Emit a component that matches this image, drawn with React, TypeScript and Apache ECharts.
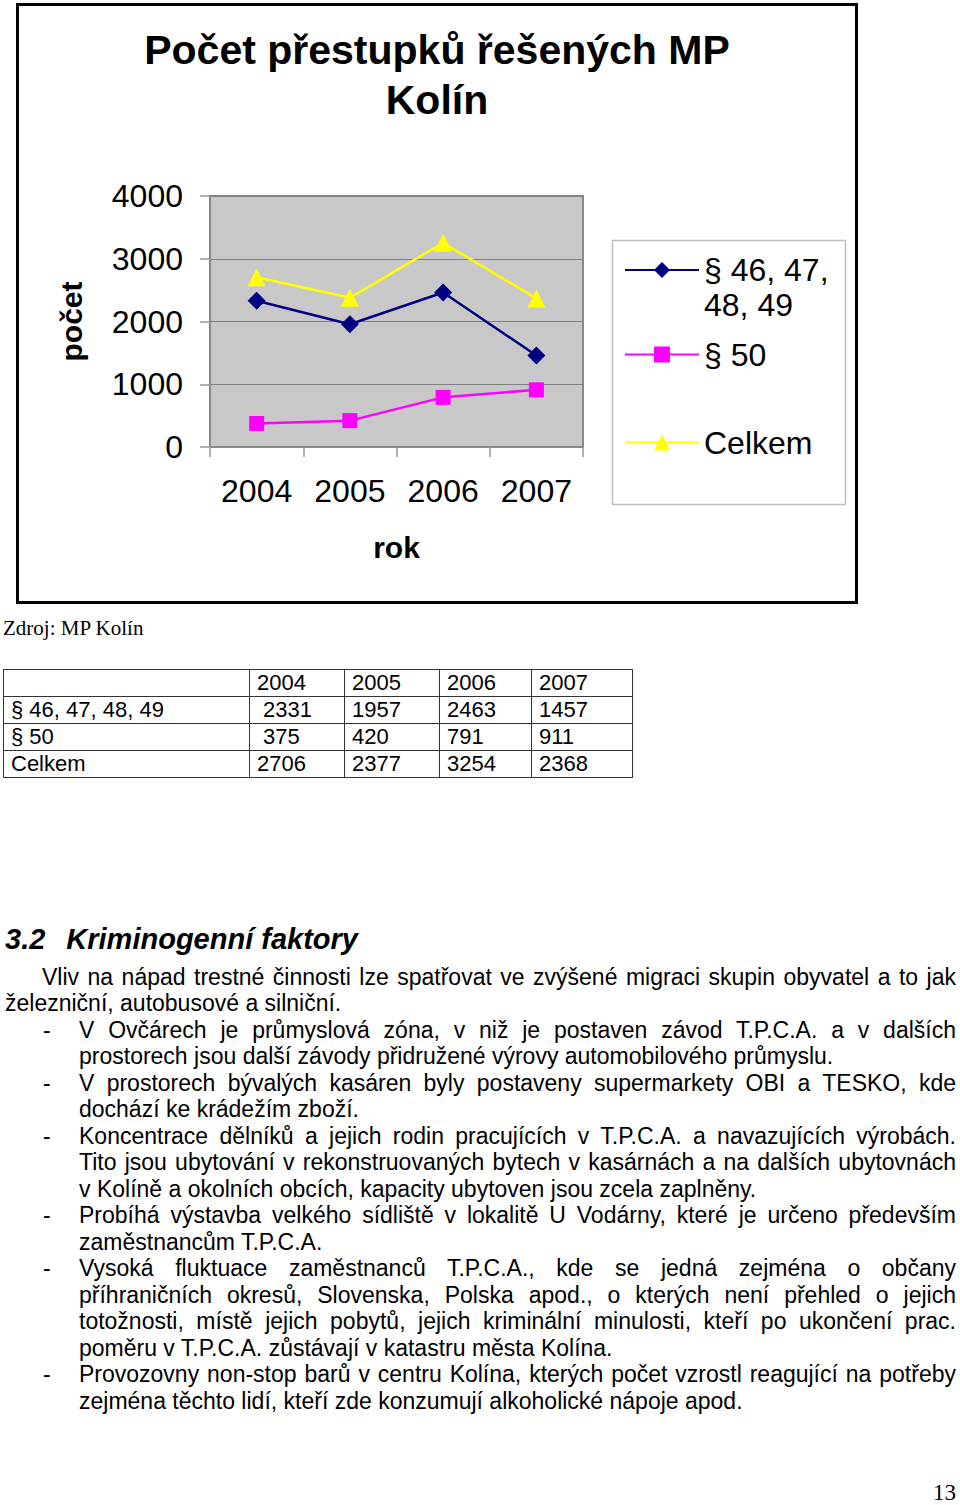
import React, { useEffect, useRef } from "react";
import * as echarts from "echarts";

// ---- data ----
const years = ["2004", "2005", "2006", "2007"];
const seriesNames = ["§ 46, 47, 48, 49", "§ 50", "Celkem"];
const par4649 = [2331, 1957, 2463, 1457];
const par50 = [375, 420, 791, 911];
const celkem = [2706, 2377, 3254, 2368];
const yMin = 0;
const yMax = 4000;
const yStep = 1000;

const chartTitle = "Počet přestupků řešených MP\nKolín";
const xName = "rok";
const yName = "počet";
const source = "Zdroj: MP Kolín";
const heading = ["3.2", "Kriminogenní faktory"];
const pageNo = "13";

// body lines: text, indent, justified, dash
const bodyLines: [string, number, boolean, boolean][] = [
  ["Vliv na nápad trestné činnosti lze spatřovat ve zvýšené migraci skupin obyvatel a to jak", 42, true, false],
  ["železniční, autobusové a silniční.", 5, false, false],
  ["V Ovčárech je průmyslová zóna, v niž je postaven závod T.P.C.A. a v dalších", 79, true, true],
  ["prostorech jsou další závody přidružené výrovy automobilového průmyslu.", 79, false, false],
  ["V prostorech bývalých kasáren byly postaveny supermarkety OBI a TESKO, kde", 79, true, true],
  ["dochází ke krádežím zboží.", 79, false, false],
  ["Koncentrace dělníků a jejich rodin pracujících v T.P.C.A. a navazujících výrobách.", 79, true, true],
  ["Tito jsou ubytování v rekonstruovaných bytech v kasárnách a na dalších ubytovnách", 79, true, false],
  ["v Kolíně a okolních obcích, kapacity ubytoven jsou zcela zaplněny.", 79, false, false],
  ["Probíhá výstavba velkého sídliště v lokalitě U Vodárny, které je určeno především", 79, true, true],
  ["zaměstnancům T.P.C.A.", 79, false, false],
  ["Vysoká fluktuace zaměstnanců T.P.C.A., kde se jedná zejména o občany", 79, true, true],
  ["příhraničních okresů, Slovenska, Polska apod., o kterých není přehled o jejich", 79, true, false],
  ["totožnosti, místě jejich pobytů, jejich kriminální minulosti, kteří po ukončení prac.", 79, true, false],
  ["poměru v T.P.C.A. zůstávají v katastru města Kolína.", 79, false, false],
  ["Provozovny non-stop barů v centru Kolína, kterých počet vzrostl reagující na potřeby", 79, true, true],
  ["zejména těchto lidí, kteří zde konzumují alkoholické nápoje apod.", 79, false, false],
];

const tableRows: [string, number[]][] = [
  [seriesNames[0], par4649],
  [seriesNames[1], par50],
  [seriesNames[2], celkem],
];

const SANS = "'Liberation Sans', Arial, Helvetica, sans-serif";
const SERIF = "'Liberation Serif', 'Times New Roman', serif";

// first legend entry wraps onto two lines; the leading empty line keeps the
// marker aligned with the first text line
const legendLabel = (name: string) =>
  name === seriesNames[0] ? "\n§ 46, 47,\n48, 49" : name;

function buildOption(): any {
  const legendBase = {
    orient: "vertical",
    left: 624,
    itemWidth: 74,
    itemHeight: 20,
    padding: 0,
    selectedMode: false,
    formatter: legendLabel,
    textStyle: { fontSize: 32, color: "#000", lineHeight: 35, fontFamily: SANS },
  };
  return {
    animation: false,
    textStyle: { fontFamily: SANS },
    title: {
      text: chartTitle,
      left: "center",
      top: 25,
      padding: 0,
      textStyle: { fontSize: 41, fontWeight: "bold", color: "#000", lineHeight: 50, fontFamily: SANS },
    },
    graphic: [
      {
        type: "rect",
        silent: true,
        shape: { x: 17.5, y: 4.5, width: 839, height: 598 },
        style: { fill: "none", stroke: "#000", lineWidth: 3 },
      },
      {
        type: "rect",
        silent: true,
        shape: { x: 612.5, y: 240.5, width: 233, height: 264 },
        style: { fill: "#fff", stroke: "#BDBDBD", lineWidth: 1.5 },
      },
    ],
    legend: [
      { ...legendBase, data: [seriesNames[0]], top: 217.5 },
      { ...legendBase, data: [seriesNames[1]], top: 337 },
      { ...legendBase, data: [seriesNames[2]], top: 425 },
    ],
    grid: {
      left: 210,
      top: 196,
      width: 373,
      height: 251,
      show: true,
      backgroundColor: "#C8C8C8",
      borderColor: "#888888",
      borderWidth: 2,
    },
    xAxis: {
      type: "category",
      data: years,
      boundaryGap: true,
      axisLine: { show: true, lineStyle: { color: "#888888", width: 2 } },
      axisTick: { show: true, length: 10, lineStyle: { color: "#999999", width: 1.5 } },
      axisLabel: { fontSize: 32, color: "#000", margin: 28, fontFamily: SANS },
      name: xName,
      nameLocation: "middle",
      nameGap: 85,
      nameTextStyle: { fontSize: 30, fontWeight: "bold", color: "#000", fontFamily: SANS },
      splitLine: { show: false },
    },
    yAxis: {
      type: "value",
      min: yMin,
      max: yMax,
      interval: yStep,
      axisLine: { show: true, lineStyle: { color: "#888888", width: 2 } },
      axisTick: { show: true, length: 10, lineStyle: { color: "#999999", width: 1.5 } },
      axisLabel: {
        fontSize: 32,
        color: "#000",
        margin: 27,
        fontFamily: SANS,
        formatter: (v: number) => String(v),
      },
      splitLine: { show: true, lineStyle: { color: "#808080", width: 1 } },
      name: yName,
      nameLocation: "middle",
      nameRotate: 90,
      nameGap: 124,
      nameTextStyle: { fontSize: 30, fontWeight: "bold", color: "#000", fontFamily: SANS },
    },
    series: [
      {
        name: seriesNames[0],
        type: "line",
        data: par4649,
        symbol: "diamond",
        symbolSize: 18,
        lineStyle: { color: "#000080", width: 2.5 },
        itemStyle: { color: "#000080" },
      },
      {
        name: seriesNames[1],
        type: "line",
        data: par50,
        symbol: "rect",
        symbolSize: 15,
        lineStyle: { color: "#FF00FF", width: 2.5 },
        itemStyle: { color: "#FF00FF" },
      },
      {
        name: seriesNames[2],
        type: "line",
        data: celkem,
        symbol: "triangle",
        symbolSize: 18,
        lineStyle: { color: "#FFFF00", width: 2.5 },
        itemStyle: { color: "#FFFF00" },
      },
    ],
  };
}

const colWidths = [246, 95, 95, 92, 101];

export default function App() {
  const ref = useRef<HTMLDivElement>(null);
  useEffect(() => {
    document.body.style.margin = "0";
    const chart = echarts.init(ref.current as HTMLDivElement, null, { renderer: "svg" });
    chart.setOption(buildOption());
    return () => chart.dispose();
  }, []);

  const cell: React.CSSProperties = {
    border: "1.5px solid #333",
    height: 26,
    padding: "0 0 0 7px",
    lineHeight: "26px",
    whiteSpace: "nowrap",
    verticalAlign: "middle",
  };

  const lineH = 26.5;
  const baseline0 = 985;

  return (
    <div
      style={{
        position: "absolute",
        left: 0,
        top: 0,
        width: 960,
        height: 1505,
        background: "#fff",
        overflow: "hidden",
        color: "#000",
      }}
    >
      <div ref={ref} style={{ position: "absolute", left: 0, top: 0, width: 874, height: 610 }} />

      <div
        style={{
          position: "absolute",
          left: 3,
          top: 616,
          fontFamily: SERIF,
          fontSize: 21,
          lineHeight: "24px",
          whiteSpace: "nowrap",
        }}
      >
        {source}
      </div>

      <table
        style={{
          position: "absolute",
          left: 3,
          top: 669,
          borderCollapse: "collapse",
          fontFamily: SANS,
          fontSize: 22,
          tableLayout: "fixed",
          width: colWidths.reduce((a, b) => a + b, 0),
        }}
      >
        <colgroup>
          {colWidths.map((w, i) => (
            <col key={i} style={{ width: w }} />
          ))}
        </colgroup>
        <tbody>
          <tr>
            <td style={cell}></td>
            {years.map((y) => (
              <td key={y} style={cell}>
                {y}
              </td>
            ))}
          </tr>
          {tableRows.map(([label, vals], r) => (
            <tr key={label}>
              <td style={cell}>{label}</td>
              {vals.map((v, c) => (
                <td
                  key={c}
                  style={{
                    ...cell,
                    paddingLeft: c === 0 && r < 2 ? 13 : 7,
                  }}
                >
                  {v}
                </td>
              ))}
            </tr>
          ))}
        </tbody>
      </table>

      <div
        style={{
          position: "absolute",
          left: 5,
          top: 922.5,
          fontFamily: SANS,
          fontSize: 29,
          fontWeight: "bold",
          fontStyle: "italic",
          lineHeight: "33px",
          whiteSpace: "nowrap",
        }}
      >
        {heading[0]}
        <span style={{ marginLeft: 21 }}>{heading[1]}</span>
      </div>

      {bodyLines.map(([t, x, just, dash], i) => {
        const top = baseline0 + i * lineH - 21.2;
        return (
          <React.Fragment key={i}>
            {dash && (
              <div
                style={{
                  position: "absolute",
                  left: 43,
                  top,
                  fontFamily: SANS,
                  fontSize: 23,
                  lineHeight: lineH + "px",
                }}
              >
                -
              </div>
            )}
            <div
              style={{
                position: "absolute",
                left: x,
                top,
                width: 956 - x,
                fontFamily: SANS,
                fontSize: 23,
                lineHeight: lineH + "px",
                textAlign: just ? "justify" : "left",
                textAlignLast: just ? "justify" : "left",
              }}
            >
              {t}
            </div>
          </React.Fragment>
        );
      })}

      <div
        style={{
          position: "absolute",
          left: 933,
          top: 1484,
          fontFamily: SERIF,
          fontSize: 23,
          lineHeight: "18px",
          height: 18,
        }}
      >
        {pageNo}
      </div>
    </div>
  );
}
